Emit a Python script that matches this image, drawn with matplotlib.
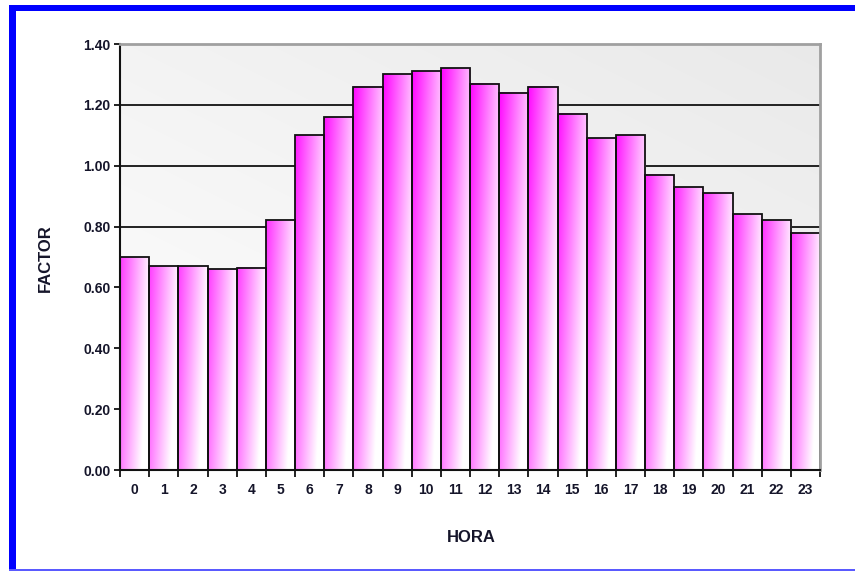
import numpy as np
import matplotlib
matplotlib.use("Agg")
import matplotlib.pyplot as plt
from matplotlib.patches import Rectangle

# ---- data ----
horas = list(range(24))
factor = [0.70, 0.67, 0.67, 0.66, 0.665, 0.82, 1.10, 1.16, 1.26, 1.30, 1.31, 1.32,
          1.27, 1.24, 1.26, 1.17, 1.09, 1.10, 0.97, 0.93, 0.91, 0.84, 0.82, 0.78]
yticks = [0.0, 0.2, 0.4, 0.6, 0.8, 1.0, 1.2, 1.4]
ytick_labels = ["0.00", "0.20", "0.40", "0.60", "0.80", "1.00", "1.20", "1.40"]
xlabel = "HORA"
ylabel = "FACTOR"

plt.rcParams['font.family'] = ['Liberation Sans', 'DejaVu Sans']
txt_color = '#15152a'

fig = plt.figure(figsize=(8.55, 5.71), dpi=100)
fig.patch.set_facecolor('white')

# blue frame
fig.patches.append(Rectangle((9/855, 0), 7/855, 1 - 5/571, transform=fig.transFigure,
                             facecolor='#0000ff', edgecolor='none'))
fig.patches.append(Rectangle((9/855, 1 - 11/571), 1, 6/571, transform=fig.transFigure,
                             facecolor='#0000ff', edgecolor='none'))
fig.patches.append(Rectangle((9/855, 0), 1, 2.5/571, transform=fig.transFigure,
                             facecolor='#5a5aff', edgecolor='none'))

ax = fig.add_axes([120/855, 1 - 470/571, 700/855, 426/571])
ymax = 1.4
xmin, xmax = -0.5, len(horas) - 0.5
ax.set_xlim(xmin, xmax)
ax.set_ylim(0, ymax)

# background gradient
gx = np.linspace(0, 1, 200)
gy = np.linspace(0, 1, 200)
GX, GY = np.meshgrid(gx, gy)
g = 1 - 0.085 * (0.45 * GX + 0.55 * GY)
bg = np.dstack([g, g, g])
ax.imshow(bg, extent=[xmin, xmax, 0, ymax], origin='lower', aspect='auto', zorder=0,
          interpolation='bilinear')

# grid lines
for yv in yticks[1:-1]:
    ax.axhline(yv, color='#111111', lw=1.3, zorder=1)

# bars with gradient
magenta = np.array([1.0, 0.0, 1.0])
white = np.array([1.0, 1.0, 1.0])
bars = ax.bar(horas, factor, width=1.0, facecolor='none', edgecolor='#111111',
              linewidth=1.3, zorder=3)
for b, h in zip(bars, factor):
    x0 = b.get_x()
    nx, ny = 40, 120
    tx = np.linspace(0, 1, nx)
    yy = np.linspace(0, h, ny)
    TX, YY = np.meshgrid(tx, yy)
    w = np.clip(0.08 + 0.72 * TX + 0.5 * (1 - YY / ymax) - 0.1, 0, 1)
    img = magenta[None, None, :] * (1 - w[..., None]) + white[None, None, :] * w[..., None]
    ax.imshow(img, extent=[x0, x0 + 1.0, 0, h], origin='lower', aspect='auto',
              zorder=2, interpolation='bilinear')
ax.set_xlim(xmin, xmax)
ax.set_ylim(0, ymax)

# spines
ax.spines['left'].set_color('#111111')
ax.spines['left'].set_linewidth(1.5)
ax.spines['bottom'].set_color('#111111')
ax.spines['bottom'].set_linewidth(1.5)
ax.spines['top'].set_color('#a0a0a0')
ax.spines['top'].set_linewidth(2)
ax.spines['right'].set_color('#a0a0a0')
ax.spines['right'].set_linewidth(2)
for s in ax.spines.values():
    s.set_zorder(5)

# ticks
ax.set_yticks(yticks)
ax.set_yticklabels(ytick_labels, fontsize=10, fontweight='bold', color=txt_color)
ax.tick_params(axis='y', direction='out', length=4, width=1.3, color='#111111', pad=3)
ax.set_xticks(horas)
ax.set_xticklabels([str(h) for h in horas], fontsize=10, fontweight='bold', color=txt_color)
ax.set_xticks(np.arange(xmin, xmax + 0.01, 1.0), minor=True)
ax.tick_params(axis='x', which='major', length=0, pad=9)
ax.tick_params(axis='x', which='minor', direction='out', length=5, width=1.3, color='#111111')

fig.text(471/855, 1 - 537/571, xlabel, ha='center', va='center', fontsize=12,
         fontweight='bold', color=txt_color)
fig.text(45/855, 1 - 258/571, ylabel, ha='center', va='center', fontsize=12,
         fontweight='bold', color=txt_color, rotation=90)

fig.savefig('out.png', dpi=100, facecolor='white')
